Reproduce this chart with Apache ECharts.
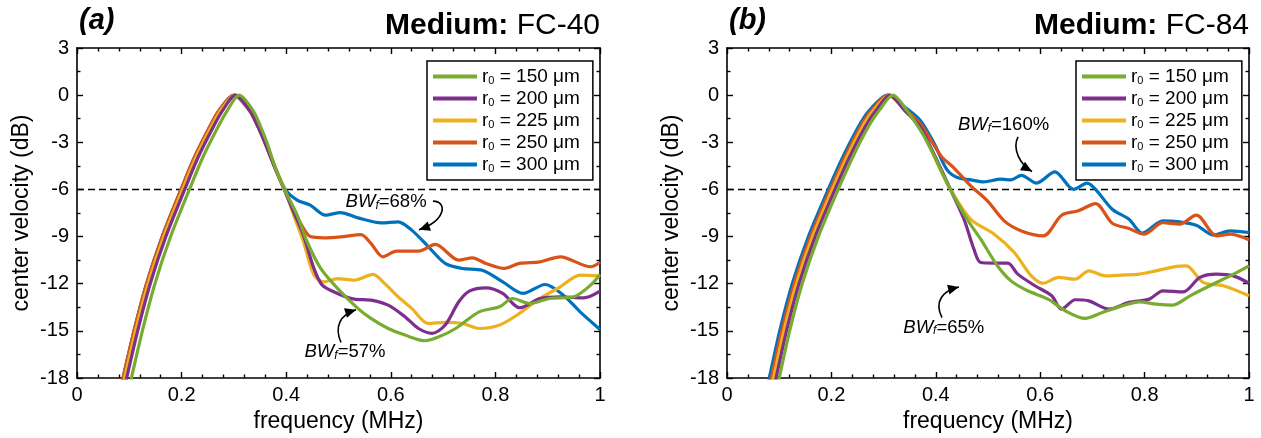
<!DOCTYPE html>
<html>
<head>
<meta charset="utf-8">
<script src="https://cdn.jsdelivr.net/npm/echarts@6/dist/echarts.min.js"></script>
<style>
  html, body { margin: 0; padding: 0; background: #fff; }
  #chart { width: 1261px; height: 438px; }
</style>
</head>
<body>
<div id="chart"></div>
<script>
// Bubble radii shown in the legend (μm)
const radii = [150, 200, 225, 250, 300];
const seriesColors = ['#77AC30', '#7E2F8E', '#EDB120', '#D95319', '#0072BD'];

// Tick values
const freqTicks = [0, 0.2, 0.4, 0.6, 0.8, 1];
const dbTicks = [3, 0, -3, -6, -9, -12, -15, -18];
const halfPowerLevel = -6;

// Medium FC-40: [frequency (MHz), center velocity (dB)]
const fc40_r150 = [[0.090,-20],[0.104,-18],[0.125,-15],[0.149,-12],[0.179,-9],[0.215,-6],[0.240,-4],[0.270,-2],[0.287,-1],[0.310,0],[0.337,-1],[0.351,-2],[0.363,-3],[0.379,-4.6],[0.395,-5.9],[0.421,-7.64],[0.44,-9.33],[0.466,-11.03],[0.498,-12.3],[0.537,-13.57],[0.562,-14.21],[0.595,-14.85],[0.627,-15.27],[0.666,-15.63],[0.692,-15.38],[0.724,-14.85],[0.769,-13.79],[0.808,-13.47],[0.833,-12.94],[0.866,-13.26],[0.904,-12.94],[0.95,-12.83],[0.982,-12.09],[1.0,-11.41]];
const fc40_r200 = [[0.081,-20],[0.095,-18],[0.116,-15],[0.140,-12],[0.170,-9],[0.206,-6],[0.231,-4],[0.261,-2],[0.278,-1],[0.303,0],[0.331,-1],[0.346,-2],[0.359,-3],[0.378,-4.6],[0.396,-6],[0.415,-7.5],[0.433,-8.91],[0.453,-11.03],[0.469,-12.09],[0.498,-12.62],[0.53,-12.98],[0.562,-13.04],[0.595,-13.36],[0.627,-14.1],[0.653,-14.85],[0.679,-15.16],[0.704,-14.63],[0.73,-13.15],[0.75,-12.47],[0.782,-12.26],[0.814,-12.62],[0.846,-13.53],[0.885,-12.94],[0.924,-12.83],[0.969,-12.9],[1.0,-12.47]];
const fc40_r225 = [[0.077,-20],[0.091,-18],[0.112,-15],[0.136,-12],[0.166,-9],[0.202,-6],[0.227,-4],[0.257,-2],[0.274,-1],[0.303,0],[0.332,-1],[0.347,-2],[0.360,-3],[0.379,-4.6],[0.397,-6],[0.415,-7.7],[0.433,-9.33],[0.453,-11.45],[0.472,-11.88],[0.498,-11.67],[0.53,-11.77],[0.566,-11.41],[0.588,-11.98],[0.614,-12.83],[0.64,-13.57],[0.672,-14.53],[0.704,-14.46],[0.737,-14.53],[0.769,-14.85],[0.808,-14.63],[0.846,-13.89],[0.885,-12.94],[0.924,-12.2],[0.962,-11.45],[1.0,-11.5]];
const fc40_r250 = [[0.074,-20],[0.088,-18],[0.109,-15],[0.133,-12],[0.163,-9],[0.199,-6],[0.224,-4],[0.254,-2],[0.271,-1],[0.300,0],[0.330,-1],[0.346,-2],[0.359,-3],[0.378,-4.6],[0.397,-6],[0.415,-7.3],[0.43,-8.3],[0.446,-9.0],[0.472,-9.08],[0.504,-9.02],[0.543,-8.87],[0.562,-9.44],[0.585,-10.29],[0.611,-9.93],[0.653,-9.93],[0.685,-9.5],[0.73,-10.5],[0.756,-10.35],[0.782,-10.71],[0.817,-11.03],[0.846,-10.71],[0.885,-10.61],[0.924,-10.29],[0.982,-10.92],[1.0,-10.65]];
const fc40_r300 = [[0.074,-20],[0.088,-18],[0.109,-15],[0.133,-12],[0.163,-9],[0.199,-6],[0.224,-4],[0.254,-2],[0.271,-1],[0.300,0],[0.330,-1],[0.346,-2],[0.360,-3],[0.379,-4.6],[0.398,-6],[0.421,-6.68],[0.446,-7.0],[0.475,-7.64],[0.504,-7.47],[0.537,-7.81],[0.582,-8.13],[0.614,-8.06],[0.64,-8.59],[0.672,-9.65],[0.704,-10.71],[0.737,-11.03],[0.775,-11.14],[0.814,-11.88],[0.853,-12.62],[0.895,-12.05],[0.93,-12.73],[0.962,-13.79],[1.0,-14.91]];

// Medium FC-84
const fc84_r150 = [[0.086,-20],[0.100,-18],[0.120,-15],[0.144,-12],[0.175,-9],[0.213,-6],[0.240,-4],[0.271,-2],[0.291,-1],[0.318,0],[0.345,-1],[0.370,-2.2],[0.390,-3.4],[0.410,-4.8],[0.428,-6],[0.46,-7.9],[0.486,-9.17],[0.518,-10.86],[0.544,-11.82],[0.576,-12.45],[0.615,-12.98],[0.648,-13.72],[0.686,-14.21],[0.719,-13.83],[0.757,-13.41],[0.79,-13.15],[0.822,-13.3],[0.854,-13.36],[0.887,-12.77],[0.925,-12.13],[0.964,-11.5],[1.0,-10.86]];
const fc84_r200 = [[0.080,-20],[0.094,-18],[0.114,-15],[0.138,-12],[0.169,-9],[0.207,-6],[0.234,-4],[0.265,-2],[0.285,-1],[0.312,0],[0.341,-1],[0.370,-2.0],[0.390,-3.3],[0.410,-4.7],[0.428,-6],[0.454,-7.9],[0.473,-9.8],[0.486,-10.65],[0.512,-10.69],[0.538,-10.69],[0.557,-11.39],[0.59,-12.13],[0.622,-12.77],[0.641,-13.62],[0.667,-13.02],[0.693,-13.09],[0.732,-13.62],[0.77,-13.19],[0.809,-12.98],[0.835,-12.45],[0.874,-12.52],[0.906,-11.6],[0.938,-11.39],[0.97,-11.5],[1.0,-11.97]];
const fc84_r225 = [[0.075,-20],[0.089,-18],[0.109,-15],[0.133,-12],[0.164,-9],[0.202,-6],[0.229,-4],[0.260,-2],[0.280,-1],[0.312,0],[0.342,-1],[0.370,-2.1],[0.390,-3.4],[0.410,-4.8],[0.428,-5.99],[0.467,-7.9],[0.512,-8.85],[0.55,-10.0],[0.583,-11.5],[0.606,-11.97],[0.635,-11.6],[0.667,-11.71],[0.693,-11.18],[0.725,-11.5],[0.757,-11.45],[0.79,-11.39],[0.822,-11.18],[0.861,-10.9],[0.88,-10.86],[0.912,-11.92],[0.951,-12.13],[1.0,-12.77]];
const fc84_r250 = [[0.071,-20],[0.085,-18],[0.105,-15],[0.129,-12],[0.160,-9],[0.198,-6],[0.225,-4],[0.256,-2],[0.276,-1],[0.309,0],[0.340,-0.9],[0.370,-1.8],[0.395,-3.1],[0.412,-3.95],[0.434,-4.61],[0.467,-5.77],[0.499,-6.73],[0.531,-8.0],[0.564,-8.64],[0.606,-8.95],[0.641,-7.64],[0.673,-7.36],[0.706,-6.9],[0.738,-8.15],[0.77,-8.49],[0.799,-8.85],[0.835,-8.11],[0.867,-8.21],[0.899,-7.64],[0.938,-8.95],[0.964,-8.85],[1.0,-9.21]];
const fc84_r300 = [[0.067,-20],[0.081,-18],[0.101,-15],[0.125,-12],[0.156,-9],[0.194,-6],[0.221,-4],[0.252,-2],[0.272,-1],[0.308,0],[0.342,-0.8],[0.370,-1.6],[0.396,-3.02],[0.421,-4.72],[0.441,-5.24],[0.467,-5.39],[0.492,-5.52],[0.525,-5.35],[0.544,-5.39],[0.564,-5.1],[0.593,-5.6],[0.628,-4.88],[0.664,-5.99],[0.69,-5.6],[0.706,-5.99],[0.738,-7.26],[0.77,-7.9],[0.796,-8.78],[0.835,-8.0],[0.867,-8.07],[0.899,-8.28],[0.932,-8.91],[0.964,-8.64],[1.0,-8.74]];

const panels = [
  { tag: '(a)', medium: 'FC-40', curves: [fc40_r150, fc40_r200, fc40_r225, fc40_r250, fc40_r300] },
  { tag: '(b)', medium: 'FC-84', curves: [fc84_r150, fc84_r200, fc84_r225, fc84_r250, fc84_r300] }
];

// Bandwidth notes: label anchor and a curved arrow (tail, two control points, tip), in data units
const notes = [
  { grid: 0, text: '68%', at: [0.591, -6.81],
    arrow: [[0.6807, -6.745], [0.7075, -6.745], [0.7075, -7.94], [0.6539, -8.57]] },
  { grid: 0, text: '57%', at: [0.5124, -16.33],
    arrow: [[0.5048, -15.74], [0.4914, -14.73], [0.5029, -13.98], [0.5335, -13.66]] },
  { grid: 1, text: '160%', at: [0.5297, -1.904],
    arrow: [[0.5575, -2.659], [0.546, -3.413], [0.5613, -4.419], [0.5843, -4.859]] },
  { grid: 1, text: '65%', at: [0.4153, -14.79],
    arrow: [[0.4119, -14.164], [0.3966, -13.16], [0.4119, -12.47], [0.4444, -12.215]] }
];

const FONT = "'Liberation Sans', Arial, Helvetica, sans-serif";
const names = radii.map(r => 'r0 = ' + r + ' μm');

const gridBoxes = [
  { left: 77, top: 48, width: 523, height: 334 },
  { left: 727, top: 48, width: 522, height: 334 }
];
const legendLeft = [427, 1076];

const axisLineStyle = { color: '#000', width: 1.6 };
const tickStyle = { color: '#000', width: 1.4 };

const xAxes = [], yAxes = [], series = [], legends = [], titles = [];

gridBoxes.forEach((g, gi) => {
  ['bottom', 'top'].forEach(pos => {
    xAxes.push({
      type: 'value', gridIndex: gi, position: pos,
      min: freqTicks[0], max: freqTicks[freqTicks.length - 1], interval: 0.2,
      axisLine: { show: true, onZero: false, lineStyle: axisLineStyle },
      axisTick: { show: true, inside: true, length: 6, lineStyle: tickStyle },
      minorTick: { show: true, splitNumber: 5, length: 3.5, lineStyle: tickStyle },
      splitLine: { show: false },
      axisLabel: { show: pos === 'bottom', color: '#000', fontSize: 20, fontFamily: FONT, margin: 7 },
      name: pos === 'bottom' ? 'frequency (MHz)' : '',
      nameLocation: 'middle', nameGap: 32,
      nameTextStyle: { color: '#000', fontSize: 23, fontFamily: FONT }
    });
  });
  ['left', 'right'].forEach(pos => {
    yAxes.push({
      type: 'value', gridIndex: gi, position: pos,
      min: dbTicks[dbTicks.length - 1], max: dbTicks[0], interval: 3,
      axisLine: { show: true, onZero: false, lineStyle: axisLineStyle },
      axisTick: { show: true, inside: true, length: 6, lineStyle: tickStyle },
      minorTick: { show: true, splitNumber: 2, length: 3.5, lineStyle: tickStyle },
      splitLine: { show: false },
      axisLabel: { show: pos === 'left', color: '#000', fontSize: 20, fontFamily: FONT, margin: 8 },
      name: pos === 'left' ? 'center velocity (dB)' : '',
      nameLocation: 'middle', nameGap: 44,
      nameTextStyle: { color: '#000', fontSize: 23, fontFamily: FONT }
    });
  });

  const p = panels[gi];
  // -6 dB reference line
  series.push({
    type: 'line', xAxisIndex: gi * 2, yAxisIndex: gi * 2,
    data: [[freqTicks[0], halfPowerLevel], [freqTicks[freqTicks.length - 1], halfPowerLevel]],
    symbol: 'none', silent: true, z: 1,
    lineStyle: { color: '#000', width: 1.6, type: [7, 4] }
  });
  // spectra, widest radius drawn first
  for (let k = radii.length - 1; k >= 0; k--) {
    series.push({
      type: 'line', name: names[k], xAxisIndex: gi * 2, yAxisIndex: gi * 2,
      data: p.curves[k], symbol: 'none', showSymbol: false,
      smooth: 0.3, clip: true,
      color: seriesColors[k], z: 2 + (radii.length - k),
      lineStyle: { color: seriesColors[k], width: 3.2 }
    });
  }

  legends.push({
    data: names, orient: 'vertical', left: legendLeft[gi], top: 61,
    icon: 'rect', itemWidth: 44, itemHeight: 4, itemGap: 3,
    padding: [6, 13, 6, 6], borderColor: '#000', borderWidth: 1.5, backgroundColor: '#fff',
    selectedMode: false,
    formatter: n => '{t|r}{s|0}{t| = ' + n.split(' = ')[1] + '}',
    textStyle: {
      color: '#000', fontFamily: FONT, fontSize: 19,
      rich: {
        t: { fontSize: 19, fontFamily: FONT, color: '#000', lineHeight: 19 },
        s: { fontSize: 11, fontFamily: FONT, color: '#000', lineHeight: 10, verticalAlign: 'bottom' }
      }
    }
  });

  titles.push({
    text: p.tag, left: g.left + 2, top: 6, padding: 0,
    textStyle: { fontSize: 29, fontWeight: 'bold', fontStyle: 'italic', fontFamily: FONT, color: '#000' }
  });
  titles.push({
    text: '{b|Medium:}{r| ' + p.medium + '}', right: 1261 - (g.left + g.width), top: 11, padding: 0,
    textStyle: {
      fontFamily: FONT, color: '#000', fontWeight: 'normal',
      rich: {
        b: { fontSize: 30, fontWeight: 'bold', fontFamily: FONT, color: '#000' },
        r: { fontSize: 30, fontWeight: 'normal', fontFamily: FONT, color: '#000' }
      }
    }
  });
});

const chart = echarts.init(document.getElementById('chart'), null, { renderer: 'canvas' });
chart.setOption({
  animation: false,
  backgroundColor: '#fff',
  grid: gridBoxes.map(g => Object.assign({ containLabel: false }, g)),
  xAxis: xAxes,
  yAxis: yAxes,
  legend: legends,
  title: titles,
  series: series
});

// Bandwidth labels with curved arrows, placed through each grid's coordinate system
const graphics = [];
notes.forEach(nt => {
  const toPx = pt => chart.convertToPixel({ gridIndex: nt.grid }, pt);
  const c = toPx(nt.at);
  graphics.push({
    type: 'text', x: c[0], y: c[1], z: 50,
    style: {
      text: '{i|BW}{f|f}{n|=' + nt.text + '}',
      align: 'center', verticalAlign: 'middle',
      rich: {
        i: { fontSize: 18.5, fontStyle: 'italic', fontFamily: FONT, fill: '#000', lineHeight: 19 },
        f: { fontSize: 12, fontStyle: 'italic', fontFamily: FONT, fill: '#000', lineHeight: 11, verticalAlign: 'bottom' },
        n: { fontSize: 18.5, fontFamily: FONT, fill: '#000', lineHeight: 19 }
      }
    }
  });
  const [a, b, d, e] = nt.arrow.map(toPx);
  graphics.push({
    type: 'bezierCurve', z: 50,
    shape: { x1: a[0], y1: a[1], cpx1: b[0], cpy1: b[1], cpx2: d[0], cpy2: d[1], x2: e[0], y2: e[1] },
    style: { stroke: '#000', lineWidth: 1.6, fill: null }
  });
  const ang = Math.atan2(e[1] - d[1], e[0] - d[0]);
  const L = 11, W = 5;
  const bx = e[0] - L * Math.cos(ang), by = e[1] - L * Math.sin(ang);
  graphics.push({
    type: 'polygon', z: 51,
    shape: { points: [
      [e[0], e[1]],
      [bx + W * Math.sin(ang), by - W * Math.cos(ang)],
      [bx - W * Math.sin(ang), by + W * Math.cos(ang)]
    ] },
    style: { fill: '#000', stroke: null }
  });
});
chart.setOption({ graphic: graphics });
</script>
</body>
</html>
